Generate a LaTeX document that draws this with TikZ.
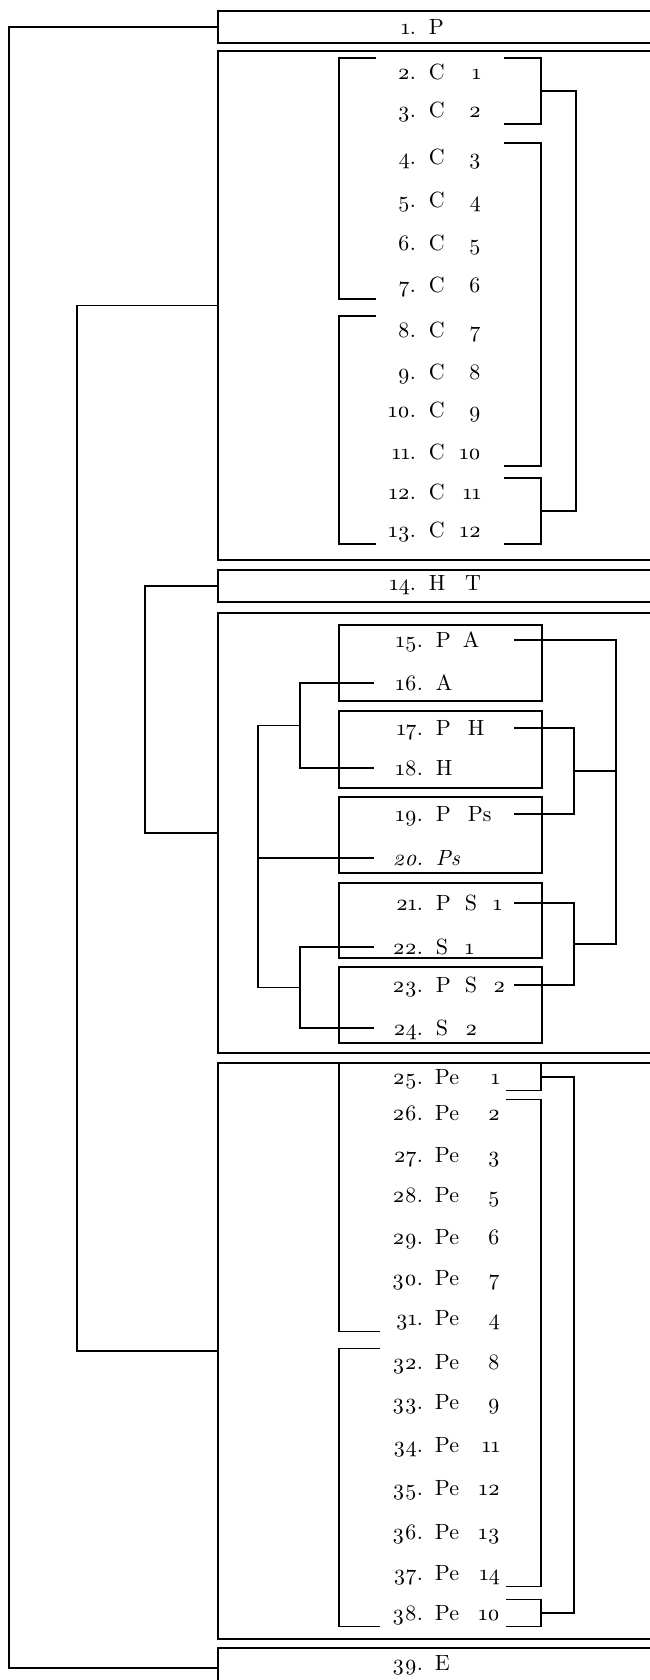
\documentclass[tikz,border=0pt]{standalone}
\usepackage{fontspec}
\setmainfont{lmroman10-regular.otf}[Numbers=OldStyle,ItalicFont=lmroman10-italic.otf]
\usepackage{tikz}
\usetikzlibrary{calc}

\newcommand{\ctxt}[3]{\makebox[128pt][l]{\makebox[40pt][r]{#1}\hspace{13pt}\makebox[52pt][l]{#2\hfill#3}}}
\newcommand{\ptxt}[3]{\makebox[126pt][l]{\makebox[43pt][r]{#1}\hspace{12pt}\makebox[65pt][l]{#2\hfill#3}}}
\newcommand{\htxt}[2]{\makebox[140pt][l]{\makebox[49pt][r]{#1}\hspace{13pt}#2}}

\begin{document}
\begin{tikzpicture}[x=1pt, y=-1pt,
  every node/.style={font=\fontsize{22}{26}\selectfont, inner sep=0pt, text height=15pt, text depth=0pt},
  bigbox/.style={draw, line width=1.7pt, minimum width=480pt, anchor=north west},
  inbox/.style={draw, line width=1.6pt, minimum width=203pt, anchor=north west},
  crow/.style={minimum height=28pt},
  prow/.style={minimum height=27pt},
  ln/.style={line width=1.5pt},
]
\useasboundingbox (0,0) rectangle (650,1680);

\node[bigbox, minimum height=32pt] (b1) at (217,10) {};
\node[bigbox, minimum height=509pt] (b2) at (217,50) {};
\node[bigbox, minimum height=32pt] (b3) at (217,569) {};
\node[bigbox, minimum height=440pt] (b4) at (217,612) {};
\node[bigbox, minimum height=576pt] (b5) at (217,1062) {};
\node[bigbox, minimum height=40pt] (b6) at (217,1647) {};

\node[inbox, minimum height=76pt] (i1) at (338,624) {};
\node[inbox, minimum height=77pt] (i2) at (338,710) {};
\node[inbox, minimum height=76pt] (i3) at (338,796) {};
\node[inbox, minimum height=75pt] (i4) at (338,882) {};
\node[inbox, minimum height=76pt] (i5) at (338,966) {};

\node (t1) at (440,27) {\ctxt{1.}{P}{}};
\node (t14) at (440,583) {\ctxt{14.}{H}{T}};
\node (t39) at (443,1663) {\ptxt{39.}{E}{}};

\node[crow] (c2) at (440,72) {\ctxt{2.}{C}{1}};
\node[crow] (c3) at (440,110) {\ctxt{3.}{C}{2}};
\node[crow] (c4) at (440,157) {\ctxt{4.}{C}{3}};
\node[crow] (c5) at (440,200) {\ctxt{5.}{C}{4}};
\node[crow] (c6) at (440,243) {\ctxt{6.}{C}{5}};
\node[crow] (c7) at (440,285) {\ctxt{7.}{C}{6}};
\node[crow] (c8) at (440,330) {\ctxt{8.}{C}{7}};
\node[crow] (c9) at (440,372) {\ctxt{9.}{C}{8}};
\node[crow] (c10) at (440,410) {\ctxt{10.}{C}{9}};
\node[crow] (c11) at (440,452) {\ctxt{11.}{C}{10}};
\node[crow] (c12) at (440,492) {\ctxt{12.}{C}{11}};
\node[crow] (c13) at (440,530) {\ctxt{13.}{C}{12}};

\node (h15) at (444,640) {\htxt{15.}{P\hspace{12pt}A}};
\node (h16) at (444,683) {\htxt{16.}{A}};
\node (h17) at (444,728) {\htxt{17.}{P\hspace{17pt}H}};
\node (h18) at (444,768) {\htxt{18.}{H}};
\node (h19) at (444,814) {\htxt{19.}{P\hspace{17pt}Ps}};
\node (h20) at (444,858) {\itshape\htxt{20.}{Ps}};
\node (h21) at (444,903) {\htxt{21.}{P\hspace{14pt}S\hspace{16pt}1}};
\node (h22) at (444,947) {\htxt{22.}{S\hspace{17pt}1}};
\node (h23) at (444,985) {\htxt{23.}{P\hspace{14pt}S\hspace{16pt}2}};
\node (h24) at (444,1028) {\htxt{24.}{S\hspace{17pt}2}};

\node[prow] (p25) at (443,1077) {\ptxt{25.}{Pe}{1}};
\node[prow] (p26) at (443,1113) {\ptxt{26.}{Pe}{2}};
\node[prow] (p27) at (443,1155) {\ptxt{27.}{Pe}{3}};
\node[prow] (p28) at (443,1195) {\ptxt{28.}{Pe}{5}};
\node[prow] (p29) at (443,1237) {\ptxt{29.}{Pe}{6}};
\node[prow] (p30) at (443,1278) {\ptxt{30.}{Pe}{7}};
\node[prow] (p31) at (443,1318) {\ptxt{31.}{Pe}{4}};
\node[prow] (p32) at (443,1362) {\ptxt{32.}{Pe}{8}};
\node[prow] (p33) at (443,1402) {\ptxt{33.}{Pe}{9}};
\node[prow] (p34) at (443,1445) {\ptxt{34.}{Pe}{11}};
\node[prow] (p35) at (443,1488) {\ptxt{35.}{Pe}{12}};
\node[prow] (p36) at (443,1532) {\ptxt{36.}{Pe}{13}};
\node[prow] (p37) at (443,1573) {\ptxt{37.}{Pe}{14}};
\node[prow] (p38) at (443,1613) {\ptxt{38.}{Pe}{10}};

\draw[ln] (b1.west) -- ++(-208,0) |- (b6.west);
\draw[ln] (b2.west) -- ++(-140,0) |- (b5.west);
\draw[ln] (b3.west) -- ++(-72,0) |- (b4.west);

\draw[ln] (c2.north west) -- ++(-37,0) |- (c7.south west);
\draw[ln] (c8.north west) -- ++(-37,0) |- (c13.south west);
\draw[ln] (c2.north east) -- ++(37,0) |- (c3.south east);
\draw[ln] (c4.north east) -- ++(37,0) |- (c11.south east);
\draw[ln] (c12.north east) -- ++(37,0) |- (c13.south east);
\coordinate (ka) at ($(c2.north east)!.5!(c3.south east)+(37,0)$);
\coordinate (kb) at ($(c12.north east)!.5!(c13.south east)+(37,0)$);
\draw[ln] (ka) -- ++(35,0) |- (kb);

\draw[ln] (h16.west) -- ++(-74,0) |- (h18.west);
\draw[ln] (h22.west) -- ++(-74,0) |- (h24.west);
\coordinate (ja) at ($(h16.west)!.5!(h18.west)+(-74,0)$);
\coordinate (jb) at ($(h22.west)!.5!(h24.west)+(-74,0)$);
\draw[ln] (ja) -- ++(-42,0) |- (jb);
\draw[ln] (h20.west) -- ++(-116,0);
\draw[ln] (h17.east) -- ++(60,0) |- (h19.east);
\draw[ln] (h21.east) -- ++(60,0) |- (h23.east);
\coordinate (jc) at ($(h17.east)!.5!(h19.east)+(60,0)$);
\coordinate (jd) at ($(h21.east)!.5!(h23.east)+(60,0)$);
\draw[ln] (h15.east) -- ++(102,0) |- (jd);
\draw[ln] (jc) -- ++(42,0);

\draw[ln] (p25.north west) -- ++(-41,0) |- (p31.south west);
\draw[ln] (p32.north west) -- ++(-41,0) |- (p38.south west);
\draw[ln] (p25.north east) -- ++(35,0) |- (p25.south east);
\draw[ln] (p26.north east) -- ++(35,0) |- (p37.south east);
\draw[ln] (p38.north east) -- ++(35,0) |- (p38.south east);
\coordinate (kc) at ($(p25.east)+(35,0)$);
\coordinate (kd) at ($(p38.east)+(35,0)$);
\draw[ln] (kc) -- ++(33,0) |- (kd);
\end{tikzpicture}
\end{document}
